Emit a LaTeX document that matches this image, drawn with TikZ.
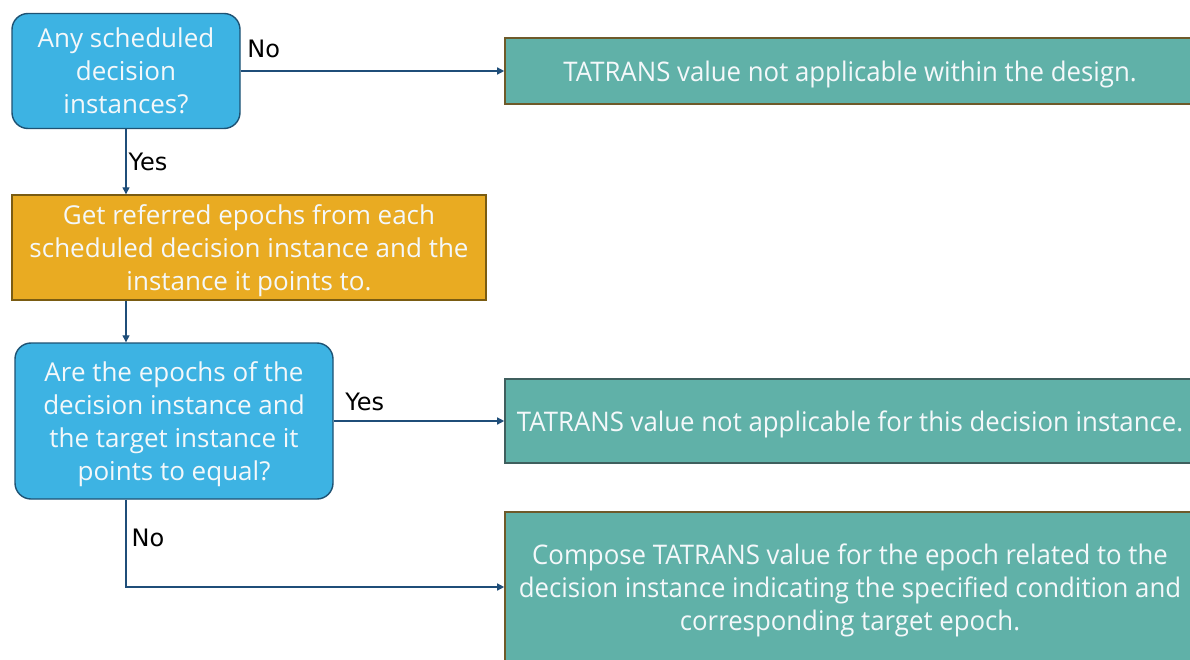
\documentclass[tikz,border=0pt]{standalone}
\usepackage{fontspec}
\setmainfont{Open Sans}
\newfontfamily\narrowfont[FakeStretch=0.955]{Open Sans}
\newfontfamily\labelfont{DejaVu Sans}
\usetikzlibrary{arrows.meta}

\definecolor{qblue}{HTML}{3DB3E3}
\definecolor{qblueline}{HTML}{1E5273}
\definecolor{stepfill}{HTML}{E9AB22}
\definecolor{stepline}{HTML}{7A5C12}
\definecolor{outfill}{HTML}{60B1A8}
\definecolor{outbrown}{HTML}{6E5A2A}
\definecolor{outgrey}{HTML}{3F5F5E}
\definecolor{flow}{HTML}{1F4E79}
\definecolor{boxtext}{HTML}{F4F8FA}

\tikzset{
  boxtxt/.style={text=boxtext, align=center, inner sep=0pt, text depth=0pt,
    font=\fontsize{26}{33}\selectfont},
  question/.style={boxtxt, draw=qblueline, fill=qblue, line width=1.4pt,
    rounded corners=16pt},
  stepbox/.style={boxtxt, draw=stepline, fill=stepfill, line width=1.4pt},
  outcome/.style={boxtxt, fill=outfill, line width=1.6pt,
    font=\narrowfont\fontsize{27}{33}\selectfont},
  arr/.style={draw=flow, line width=1.3pt,
    -{Triangle[length=7pt,width=7pt]}},
  lbl/.style={text=black, inner sep=0pt, font=\labelfont\fontsize{24}{28}\selectfont}
}

\begin{document}
\begin{tikzpicture}[x=1pt,y=-1pt]
  \clip (0,0) rectangle (1190,660);
  \fill[white] (0,0) rectangle (1190,660);

  % decision: any scheduled instances
  \node[question, minimum width=228pt, minimum height=115pt] (any) at (126,71)
    {Any scheduled\\decision\\instances?};

  % collect epochs
  \node[stepbox, minimum width=474pt, minimum height=105pt] (get) at (249,247.5)
    {Get referred epochs from each\\scheduled decision instance and the\\instance it points to.};

  % decision: equal epochs
  \node[question, minimum width=318pt, minimum height=156pt] (eq) at (174,421)
    {Are the epochs of the\\decision instance and\\the target instance it\\points to equal?};

  % outcomes
  \node[outcome, draw=outbrown, minimum width=690pt, minimum height=66pt] (na) at (850,71)
    {TATRANS value not applicable within the design.};
  \node[outcome, draw=outgrey, minimum width=690pt, minimum height=84pt] (nai) at (850,421)
    {TATRANS value not applicable for this decision instance.};
  \node[outcome, draw=outbrown, minimum width=690pt, minimum height=150pt] (comp) at (850,587)
    {Compose TATRANS value for the epoch related to the\\decision instance indicating the specified condition and\\corresponding target epoch.};

  % connectors
  \draw[arr] (any.east) -- node[lbl, at start, anchor=west, xshift=6pt, yshift=22pt] {No} (na.west);
  \draw[arr] (any.south) -- node[lbl, midway, anchor=west, xshift=2pt] {Yes} (any.south |- get.north);
  \draw[arr] (get.south -| any.south) -- (eq.north -| any.south);
  \draw[arr] (eq.east) -- node[lbl, at start, anchor=west, xshift=11pt, yshift=19pt] {Yes} (nai.west);
  \draw[arr] (eq.south -| any.south) |- node[lbl, pos=0.22, anchor=west, xshift=5pt] {No} (comp.west);
\end{tikzpicture}
\end{document}
